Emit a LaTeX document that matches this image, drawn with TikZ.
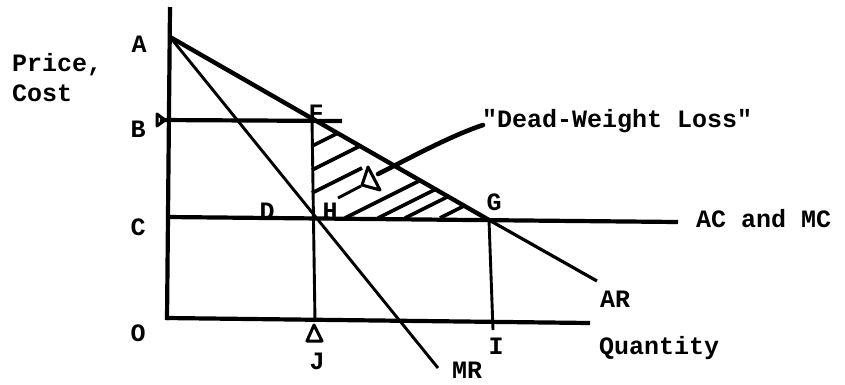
\documentclass[tikz,border=0pt]{standalone}
\usepackage{fontspec}
\setmainfont{Liberation Mono}[Ligatures=TeXOff]
\tikzset{
  lbl/.style={font=\fontsize{25}{28}\selectfont\bfseries, inner sep=0pt},
  axisln/.style={line width=4.2pt},
  thickln/.style={line width=4.4pt},
  thinln/.style={line width=2.9pt},
  hatchln/.style={line width=3.6pt},
  markln/.style={line width=3pt, line join=round}
}
\begin{document}
\begin{tikzpicture}[x=1pt,y=-1pt]
\useasboundingbox (0,0) rectangle (845,384);
% key points
\coordinate (Top) at (170,7);
\coordinate (Obot) at (167,320);
\coordinate (A) at (170,37);
\coordinate (Bl) at (160,120);
\coordinate (Br) at (342,121);
\coordinate (F) at (312,119);
\coordinate (Cl) at (167,217);
\coordinate (Cr) at (678,222);
\coordinate (H) at (313,219);
\coordinate (G) at (489,220);
\coordinate (ARend) at (597,281);
\coordinate (MRend) at (438,368);
\coordinate (Ol) at (166,318);
\coordinate (Or) at (590,323);
\coordinate (J) at (315,322);
\coordinate (I) at (493,330);
% axes
\draw[axisln] (Top) -- (Obot);
\draw[axisln] (Ol) -- (Or);
% price lines
\draw[axisln] (Bl) -- (Br);
\draw[axisln] (Cl) -- (Cr);
% AR
\draw[thickln] (A) -- (G);
\draw[thinln, line width=3.2pt] (G) -- (ARend);
% MR
\draw[thinln] (A) -- (MRend);
% verticals
\draw[thinln] (F) -- (J);
\draw[thinln] (G) -- (I);
% hatching
\draw[hatchln] (312,146) -- (338.1,133.0);
\draw[hatchln] (312,170) -- (360.6,145.7);
\draw[hatchln] (312,193) -- (362,168);
\draw[hatchln] (345,218) -- (421.0,180.0);
\draw[hatchln] (378,218) -- (436.5,188.8);
\draw[hatchln] (405,218) -- (449.1,196.0);
\draw[hatchln] (440,218) -- (465.5,205.2);
% pointer
\coordinate (Pa) at (338,198);
\coordinate (Pb) at (361,186);
\coordinate (Pc) at (378,174);
\coordinate (Pd) at (483,125);
\draw[thinln] (Pa) -- (Pb);
\draw[line width=4.6pt, line cap=round] (Pc) .. controls (410,158) and (450,136) .. (Pd);
\draw[markln] (368,167) -- (362,185) -- (380,190) -- cycle;
% marks
\draw[markln] (157,114) -- (157,126) -- (165,120) -- cycle;
\draw[markln] (314,325) -- (307,341) -- (322,341) -- cycle;
% labels
\node[lbl, anchor=west] (price) at (12,65) {Price,};
\node[lbl, anchor=west] (cost) at (12,93) {Cost};
\node[lbl] (lA) at (139,44) {A};
\node[lbl] (lB) at (138,129) {B};
\node[lbl] (lC) at (138,227) {C};
\node[lbl] (lO) at (138,333) {O};
\node[lbl] (lD) at (267,211) {D};
\node[lbl] (lH) at (330,211) {H};
\node[lbl] (lF) at (316,113) {F};
\node[lbl] (lG) at (494,202) {G};
\node[lbl] (lJ) at (317,361) {J};
\node[lbl] (lI) at (496,346) {I};
\node[lbl] (lMR) at (467,370) {MR};
\node[lbl] (lAR) at (615,299) {AR};
\node[lbl, anchor=west] (lQ) at (599,348) {Quantity};
\node[lbl, anchor=west] (lAC) at (696,219) {AC and MC};
\node[lbl, anchor=west] (lDW) at (482,121) {"Dead-Weight Loss"};
\end{tikzpicture}
\end{document}
